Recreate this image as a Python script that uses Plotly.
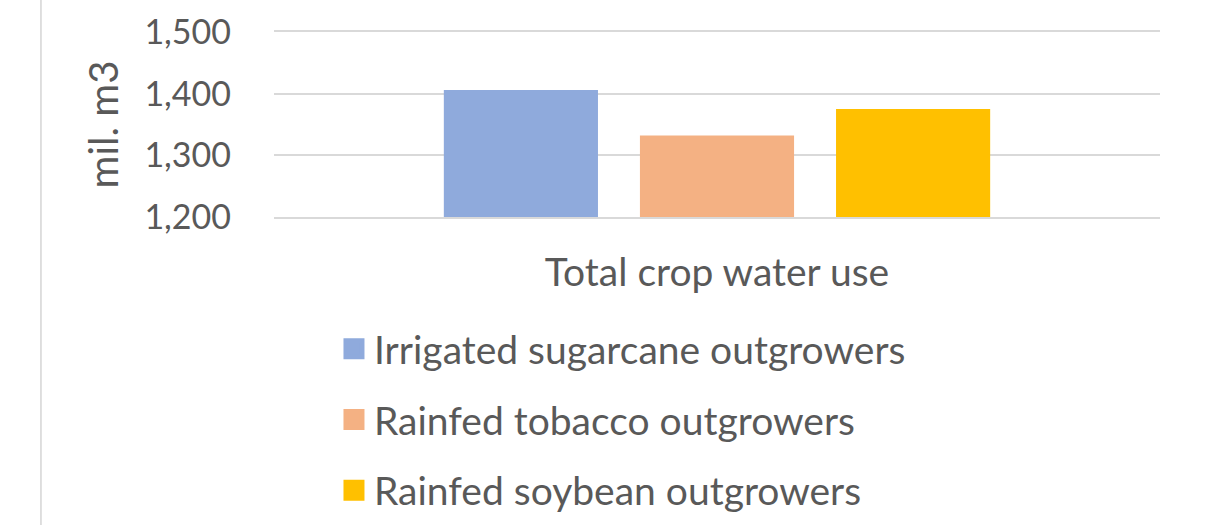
import plotly.graph_objects as go

# Chart data
categories = ["Total crop water use"]
series_names = [
    "Irrigated sugarcane outgrowers",
    "Rainfed tobacco outgrowers",
    "Rainfed soybean outgrowers",
]
series_values = [1406, 1332, 1375]
series_colors = ["#8FAADC", "#F4B183", "#FFC000"]
y_ticks = [1200, 1300, 1400, 1500]

FONT = "Lato"
TEXT_COLOR = "#595959"
GRID_COLOR = "#d9d9d9"

fig = go.Figure()

for name, val, col in zip(series_names, series_values, series_colors):
    fig.add_trace(go.Bar(
        x=categories, y=[val], name=name,
        marker=dict(color=col, line=dict(width=0)),
        showlegend=False, hoverinfo="x+y+name",
    ))

# legend entries with large square swatches
for i, (name, col) in enumerate(zip(series_names, series_colors)):
    fig.add_trace(go.Scatter(
        x=[None], y=[None], mode="markers", name=name,
        legendgroup=f"g{i}",
        marker=dict(symbol="square", size=16, color=col,
                    line=dict(color=col, width=5)),
    ))

# thin frame line on the left edge of the page
fig.add_shape(type="line", xref="paper", yref="paper",
              x0=-0.263, x1=-0.263, y0=-1.8, y1=1.3,
              line=dict(color="#bfbfbf", width=1))

fig.update_layout(
    width=1221, height=525, autosize=False,
    margin=dict(l=274, r=61, t=32, b=308, autoexpand=False),
    paper_bgcolor="white", plot_bgcolor="white",
    font=dict(family=FONT, color=TEXT_COLOR, size=34),
    barmode="group", bargap=0.336, bargroupgap=0.214,
    showlegend=True,
    legend=dict(
        orientation="v", traceorder="grouped", tracegroupgap=17,
        x=0.0677, xanchor="left", y=-0.540, yanchor="top",
        font=dict(family=FONT, color=TEXT_COLOR, size=39),
        bgcolor="rgba(0,0,0,0)",
    ),
    xaxis=dict(
        showgrid=False, zeroline=False,
        # top and bottom lines act as the 1,500 and 1,200 gridlines
        showline=True, mirror=True, linecolor=GRID_COLOR, linewidth=1.5,
        ticks="", ticklabelstandoff=20,
        tickfont=dict(family=FONT, color=TEXT_COLOR, size=39),
    ),
    yaxis=dict(
        range=[1200, 1500], tickvals=y_ticks, tickformat=",",
        showgrid=True, gridcolor=GRID_COLOR, gridwidth=1.5,
        showline=False, zeroline=False, ticks="",
        ticklabelstandoff=42,
        tickfont=dict(family=FONT, color=TEXT_COLOR, size=34),
        title=dict(text="mil. m3", standoff=13,
                   font=dict(family=FONT, color=TEXT_COLOR, size=40)),
    ),
)

fig.write_html("out.html")
